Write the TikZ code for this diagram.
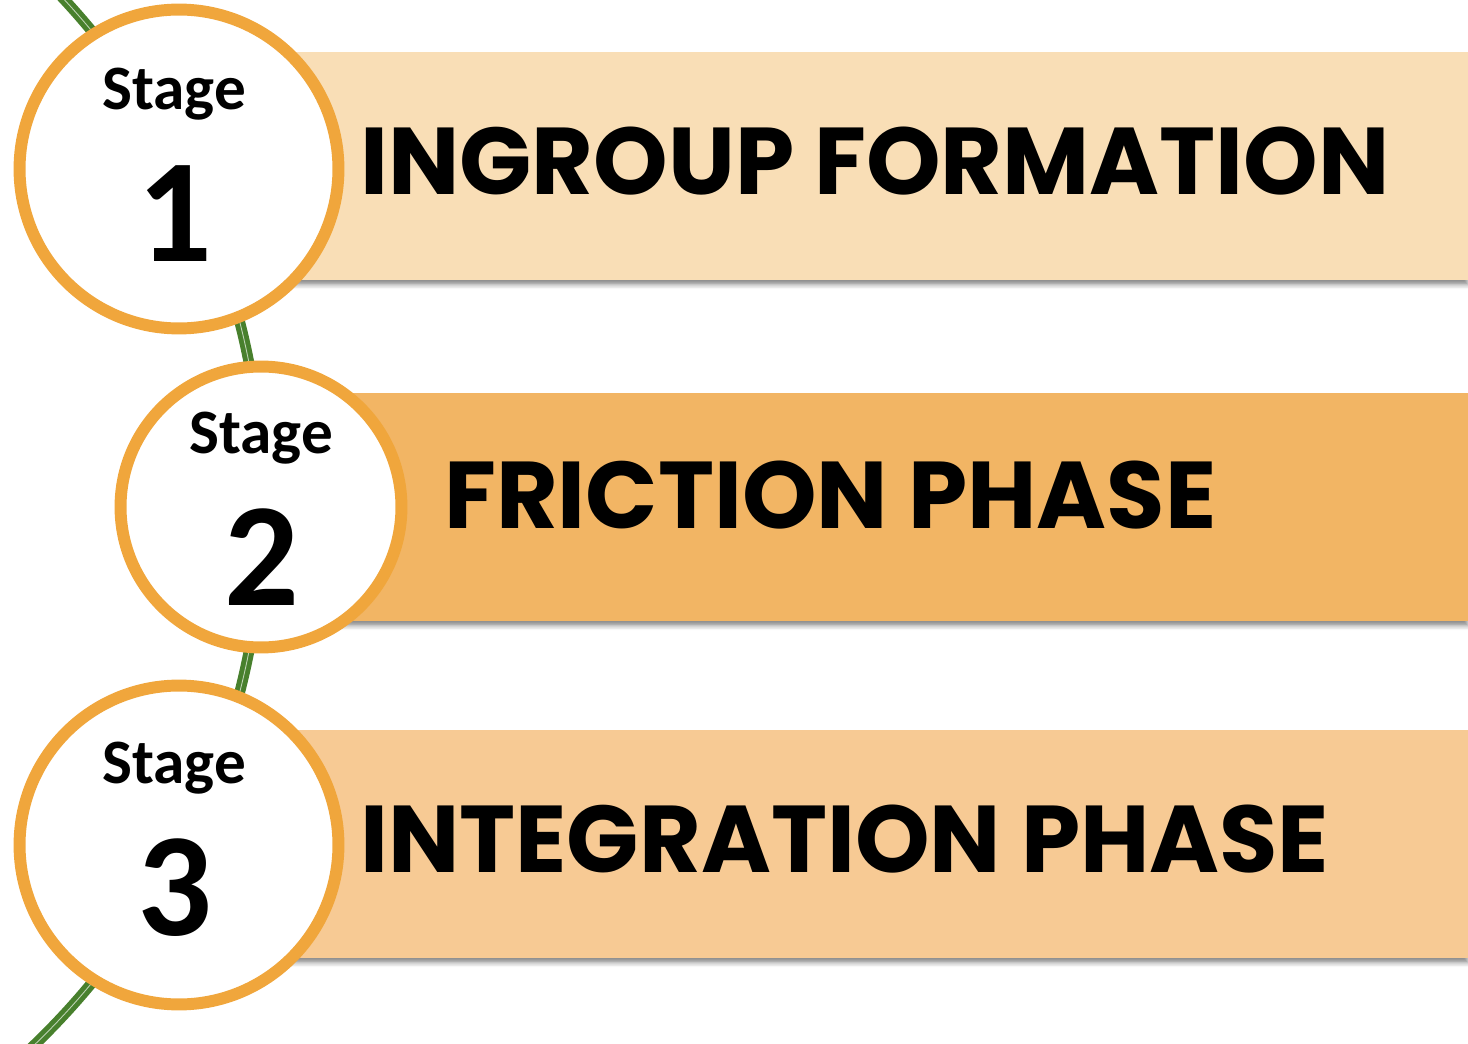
\documentclass[tikz,border=0pt]{standalone}
\usepackage{fontspec}
\usetikzlibrary{shadows.blur}
\newfontfamily\stagefont{Carlito}
\newfontfamily\bandfont{Poppins}
\definecolor{ring}{RGB}{240,166,60}
\definecolor{bandA}{RGB}{249,222,182}
\definecolor{bandB}{RGB}{242,181,100}
\definecolor{bandC}{RGB}{247,202,148}
\definecolor{vine}{RGB}{72,128,45}
\tikzset{
  stagering/.style={circle, draw=ring, line width=6.8pt, fill=white},
  band/.style={anchor=north west, minimum width=1268*0.569pt, minimum height=228*0.569pt,
    inner sep=0pt, blur shadow={shadow xshift=0pt, shadow yshift=-2.5pt, shadow blur radius=2.5pt, shadow opacity=45}},
  stagelbl/.style={anchor=base, font=\stagefont\bfseries\fontsize{36}{40}\selectfont},
  stagenum/.style={anchor=base, font=\stagefont\bfseries\fontsize{84}{90}\selectfont},
  bandlbl/.style={anchor=base west, font=\bandfont\bfseries\fontsize{54}{60}\selectfont},
}
\begin{document}
\begin{tikzpicture}[x=0.02cm,y=-0.02cm]
\useasboundingbox (0,0) rectangle (1468,1044);
% vine running behind the stages
\coordinate (vtop) at (53.4,-11.9);
\draw[vine, line width=2.8pt, double=vine!35!white, double distance=0.5pt]
  (vtop) arc[start angle=-44, end angle=47, radius=747] coordinate (vbot);
% bands
\node[band, fill=bandA] (b1) at (200,52) {};
\node[band, fill=bandB] (b2) at (200,393) {};
\node[band, fill=bandC] (b3) at (200,730) {};
% stage circles
\node[stagering, minimum size=319*0.569pt] (s1) at (179,169) {};
\node[stagering, minimum size=281*0.569pt] (s2) at (261,507) {};
\node[stagering, minimum size=319*0.569pt] (s3) at (179,845) {};
\node[stagelbl] (s1t) at (174,110) {Stage};
\node[stagenum] (s1n) at (175,262) {1};
\node[stagelbl] (s2t) at (261,453) {Stage};
\node[stagenum] (s2n) at (262,605) {2};
\node[stagelbl] (s3t) at (174,783) {Stage};
\node[stagenum] (s3n) at (175,935) {3};
% band titles
\node[bandlbl] (b1t) at (354,195) {INGROUP FORMATION};
\node[bandlbl] (b2t) at (438,528) {FRICTION PHASE};
\node[bandlbl] (b3t) at (354,872) {INTEGRATION PHASE};
\end{tikzpicture}
\end{document}
